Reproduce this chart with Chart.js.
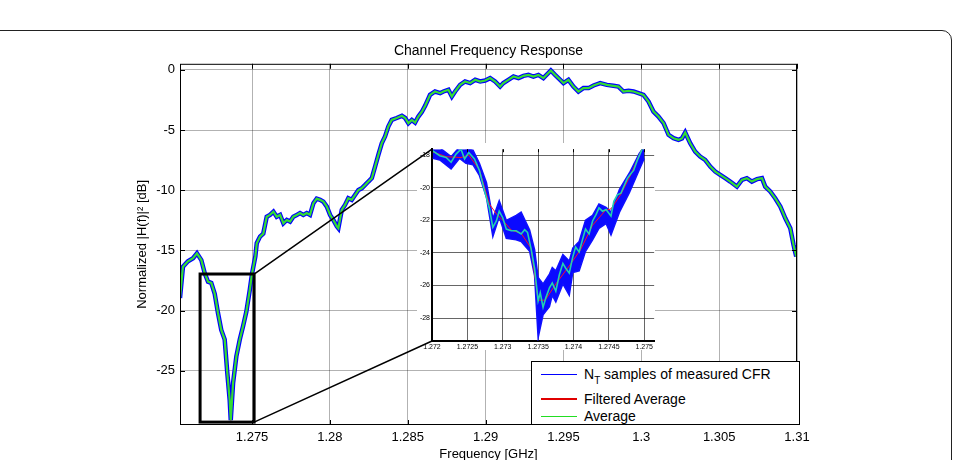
<!DOCTYPE html>
<html>
<head>
<meta charset="utf-8">
<script src="https://cdn.jsdelivr.net/npm/chart.js@4.4.1/dist/chart.umd.min.js"></script>
<style>
  body { margin: 0; background: #fff; overflow: hidden; }
  #wrap { position: relative; width: 954px; height: 460px; overflow: hidden; }
  #frame { position: absolute; left: -10px; top: 30px; width: 962px; height: 480px; box-sizing: border-box;
           border: 1.5px solid #222; border-radius: 10px; }
  canvas { position: absolute; }
  #main { left: 0; top: 0; }
  #inset { left: 417px; top: 143px; }
  #overlay { left: 0; top: 0; pointer-events: none; }
  #legend { position: absolute; left: 531px; top: 361px; width: 269px; height: 64px; box-sizing: border-box;
            border: 1px solid #000; background: #fff; font: 14px "Liberation Sans", Arial, sans-serif; color: #000; }
  #legend .row { position: absolute; left: 0; height: 16px; line-height: 16px; white-space: nowrap; }
  #legend .ln { position: absolute; left: 9px; width: 36px; top: 8px; }
  #legend .tx { position: absolute; left: 52px; top: 0; }
  #legend sub { font-size: 10px; vertical-align: -5px; line-height: 0; }
</style>
</head>
<body>
<div id="wrap">
  <div id="frame"></div>
  <canvas id="main" width="954" height="460"></canvas>
  <canvas id="inset" width="238" height="207"></canvas>
  <canvas id="overlay" width="954" height="460"></canvas>
  <div id="legend">
    <div class="row" style="top:4px"><span class="ln" style="height:1px;background:#0000ff"></span><span class="tx">N<sub>T</sub> samples of measured CFR</span></div>
    <div class="row" style="top:29px"><span class="ln" style="height:2px;top:7px;background:#e00000"></span><span class="tx">Filtered Average</span></div>
    <div class="row" style="top:46px"><span class="ln" style="height:1px;background:#22dd22"></span><span class="tx">Average</span></div>
  </div>
</div>
<script>
// ---- main plot data (frequency in GHz, normalized |H(f)|^2 in dB) ----
var mainFreq = [1.27037,1.27056,1.27088,1.27121,1.27146,1.27174,1.27196,1.27217,1.27238,1.27260,
  1.27281,1.27302,1.27324,1.27341,1.27356,1.27363,1.27378,1.27399,1.27421,1.27442,
  1.27463,1.27485,1.27500,1.27521,1.27530,1.27551,1.27572,1.27594,1.27615,1.27637,
  1.27658,1.27680,1.27701,1.27723,1.27744,1.27765,1.27787,1.27808,1.27829,1.27851,
  1.27872,1.27894,1.27915,1.27937,1.27958,1.27980,1.28001,1.28022,1.28044,1.28054,
  1.28076,1.28097,1.28118,1.28140,1.28161,1.28183,1.28204,1.28226,1.28247,1.28269,
  1.28290,1.28311,1.28333,1.28354,1.28375,1.28397,1.28429,1.28462,1.28483,1.28504,
  1.28526,1.28547,1.28568,1.28590,1.28611,1.28632,1.28643,1.28675,1.28708,1.28729,
  1.28761,1.28783,1.28804,1.28836,1.28868,1.28901,1.28933,1.28965,1.28997,1.29029,
  1.29061,1.29093,1.29114,1.29146,1.29179,1.29211,1.29243,1.29275,1.29307,1.29339,
  1.29371,1.29419,1.29446,1.29479,1.29500,1.29532,1.29564,1.29596,1.29628,1.29661,
  1.29693,1.29736,1.29779,1.29821,1.29853,1.29885,1.29918,1.29950,1.29982,1.30014,
  1.30046,1.30078,1.30110,1.30143,1.30175,1.30207,1.30239,1.30261,1.30282,1.30314,
  1.30346,1.30378,1.30410,1.30443,1.30475,1.30507,1.30539,1.30571,1.30614,1.30646,
  1.30678,1.30710,1.30743,1.30775,1.30796,1.30828,1.30860,1.30893,1.30925,1.30957,
  1.30978,1.30995];
var mainAvg = [-18.95,-16.35,-15.9,-15.65,-15.24,-15.8,-16.9,-17.6,-17.7,-18.6,
  -20.2,-21.6,-22.4,-25.2,-27.4,-29.1,-26.0,-23.8,-22.4,-21.3,
  -20.1,-18.3,-16.9,-15.5,-14.4,-13.85,-13.6,-12.2,-12.05,-11.78,
  -12.2,-12.05,-12.74,-12.47,-12.6,-12.2,-12.05,-11.9,-12.05,-11.9,
  -12.05,-11.08,-10.7,-10.8,-10.95,-11.36,-12.05,-12.47,-13.0,-13.16,
  -11.64,-11.22,-10.67,-10.8,-10.4,-9.98,-9.84,-9.56,-9.28,-9.0,
  -8.04,-7.07,-6.1,-5.54,-4.71,-4.16,-4.0,-3.82,-4.0,-4.43,
  -4.16,-4.38,-3.88,-3.5,-3.0,-2.4,-2.08,-1.8,-1.94,-1.8,
  -1.66,-2.22,-1.8,-1.25,-0.97,-1.1,-0.83,-0.97,-0.89,-0.69,
  -0.97,-1.39,-1.1,-0.83,-0.56,-0.69,-0.5,-0.42,-0.56,-0.42,
  -0.69,-0.06,-0.42,-0.83,-1.1,-0.83,-1.39,-1.8,-1.52,-1.52,
  -1.3,-1.1,-1.25,-1.33,-1.39,-1.8,-1.75,-1.8,-1.94,-2.08,
  -2.63,-3.47,-3.88,-4.43,-5.4,-5.68,-5.82,-5.7,-5.21,-6.1,
  -6.79,-7.2,-7.48,-8.04,-8.45,-8.73,-9.0,-9.28,-9.7,-9.14,
  -9.0,-9.28,-9.08,-9.0,-9.7,-10.1,-10.67,-11.36,-12.33,-13.16,
  -14.55,-15.5];
var mainXTicks = [1.275, 1.28, 1.285, 1.29, 1.295, 1.3, 1.305, 1.31];
var mainYTicks = [-25, -20, -15, -10, -5, 0];

// ---- zoomed inset data ----
var insetFreq = [1.27201,1.27211,1.27220,1.27227,1.27234,1.27241,1.27246,1.27252,1.27260,1.27267,
  1.27274,1.27281,1.27286,1.27291,1.27295,1.27300,1.27305,1.27312,1.27319,1.27326,
  1.27331,1.27335,1.27340,1.27345,1.27348,1.27350,1.27353,1.27357,1.27361,1.27366,
  1.27370,1.27375,1.27380,1.27385,1.27389,1.27394,1.27399,1.27403,1.27408,1.27413,
  1.27417,1.27422,1.27427,1.27432,1.27436,1.27441,1.27446,1.27453,1.27457,1.27462,
  1.27467,1.27471,1.27476,1.27481,1.27485,1.27490,1.27495,1.27498];
var insetAvg = [-17.74,-18.04,-18.14,-18.44,-17.94,-17.64,-18.24,-17.84,-18.24,-18.94,
  -20.14,-21.24,-22.44,-22.04,-21.44,-21.84,-22.54,-22.64,-22.64,-22.84,
  -22.58,-22.74,-23.74,-24.94,-26.14,-26.94,-26.44,-27.34,-26.74,-26.14,
  -25.84,-26.34,-25.34,-24.64,-24.94,-25.24,-24.24,-23.64,-23.94,-23.14,
  -22.54,-22.84,-22.04,-21.64,-21.24,-21.44,-21.34,-21.74,-20.84,-20.44,
  -20.34,-19.94,-19.44,-19.14,-18.94,-18.34,-17.84,-17.54];
var filtFreq = [1.27201,1.27220,1.27241,1.27252,1.27267,1.27281,1.27291,1.27300,1.27312,1.27326,
  1.27340,1.27350,1.27360,1.27375,1.27394,1.27410,1.27427,1.27445,1.27453,1.27467,1.27481,1.27497];
var filtered = [-17.8,-18.1,-18.15,-18.0,-18.9,-21.0,-21.6,-22.0,-22.6,-22.8,
  -23.7,-26.9,-26.9,-25.9,-24.8,-23.8,-22.3,-21.4,-21.3,-20.4,-19.2,-17.6];
// spread of the N_T measured samples (upper / lower envelope)
var bandFreq = [1.27201,1.27211,1.27227,1.27239,1.27248,1.27258,1.27267,1.27277,1.27286,1.27295,
  1.27305,1.27319,1.27326,1.27338,1.27345,1.27350,1.27357,1.27366,1.27370,1.27375,
  1.27385,1.27394,1.27399,1.27408,1.27417,1.27427,1.27436,1.27446,1.27453,1.27465,
  1.27479,1.27493,1.27500];
var bandUpper = [-17.6,-17.55,-18.1,-17.5,-17.6,-17.7,-18.5,-19.7,-21.9,-20.8,
  -22.0,-21.7,-21.5,-22.6,-23.8,-25.5,-25.9,-25.3,-24.9,-25.1,
  -24.1,-24.5,-23.7,-23.3,-22.0,-21.7,-21.0,-21.2,-21.5,-20.1,
  -19.1,-17.9,-17.5];
var bandLower = [-18.2,-18.3,-18.85,-18.2,-18.5,-18.6,-19.25,-20.6,-23.0,-21.8,
  -23.1,-23.2,-23.3,-23.9,-25.4,-29.2,-27.8,-27.3,-26.6,-27.0,
  -25.9,-26.6,-25.2,-25.1,-23.9,-23.2,-22.5,-22.2,-22.9,-21.5,
  -20.3,-18.9,-18.2];
var insetXTicks = [1.272, 1.2725, 1.273, 1.2735, 1.274, 1.2745, 1.275];
var insetYTicks = [-28, -26, -24, -22, -20, -18];
// region of the main plot that the inset magnifies
var zoomBox = [1.27166, 1.27513, -29.26, -16.96];

function pts(xs, ys) {
  return xs.map(function (x, i) { return {x: x, y: ys[i]}; });
}
function fmt(v) { return String(Number(v.toFixed(5))); }

Chart.defaults.font.family = "'Liberation Sans', Arial, sans-serif";
Chart.defaults.color = '#000';

var line = {pointRadius: 0, tension: 0, fill: false};

// MATLAB style box with inward ticks
var boxPlugin = {
  id: 'box',
  afterDraw: function (chart) {
    var c = chart.ctx, a = chart.chartArea, xs = chart.scales.x, ys = chart.scales.y;
    c.save();
    c.strokeStyle = '#000';
    c.lineWidth = 1;
    c.strokeRect(a.left + 0.5, a.top + 0.5, a.right - a.left - 1, a.bottom - a.top - 1);
    c.beginPath();
    mainXTicks.forEach(function (t) {
      var x = Math.round(xs.getPixelForValue(t)) + 0.5;
      c.moveTo(x, a.top); c.lineTo(x, a.top + 5);
      c.moveTo(x, a.bottom); c.lineTo(x, a.bottom - 5);
    });
    mainYTicks.forEach(function (t) {
      var y = Math.round(ys.getPixelForValue(t)) + 0.5;
      c.moveTo(a.left, y); c.lineTo(a.left + 5, y);
      c.moveTo(a.right, y); c.lineTo(a.right - 5, y);
    });
    c.stroke();
    c.restore();
  }
};

// datasets are listed top-most first (Chart.js paints index 0 last)
var mainChart = new Chart(document.getElementById('main'), {
  type: 'line',
  data: {
    datasets: [
      Object.assign({label: 'average', data: pts(mainFreq, mainAvg), borderColor: '#33dd33', borderWidth: 2.2}, line),
      // filtered average coincides with the average at this scale
      Object.assign({label: 'filtered', data: pts(mainFreq, mainAvg), borderColor: '#ff0000', borderWidth: 1}, line),
      Object.assign({label: 'samples', data: pts(mainFreq, mainAvg), borderColor: '#0000ff', borderWidth: 4.5}, line)
    ]
  },
  options: {
    responsive: false,
    animation: false,
    layout: {padding: {left: 0, right: 157, top: 0, bottom: 0}},
    plugins: {
      legend: {display: false},
      tooltip: {enabled: false},
      title: {display: true, text: 'Channel Frequency Response', fullSize: false,
              font: {size: 14, weight: 'normal'}, padding: {top: 43, bottom: 4}}
    },
    scales: {
      x: {
        type: 'linear', min: 1.27037, max: 1.31,
        afterBuildTicks: function (s) { s.ticks = mainXTicks.map(function (v) { return {value: v}; }); },
        afterFit: function (s) { s.height = 35; },
        ticks: {font: {size: 13}, padding: 5, maxRotation: 0, callback: fmt},
        grid: {color: 'rgba(0,0,0,0.3)', drawTicks: false},
        border: {display: false},
        title: {display: true, text: 'Frequency [GHz]', font: {size: 13}, padding: {top: 0, bottom: -2}}
      },
      y: {
        min: -29.5, max: 0.5,
        afterBuildTicks: function (s) { s.ticks = mainYTicks.map(function (v) { return {value: v}; }); },
        afterFit: function (s) { s.width = 180; },
        ticks: {font: {size: 13}, padding: 5},
        grid: {color: 'rgba(0,0,0,0.3)', drawTicks: false},
        border: {display: false},
        title: {display: true, text: 'Normalized |H(f)|² [dB]', font: {size: 13}, padding: {top: 135, bottom: 0}}
      }
    }
  },
  plugins: [boxPlugin]
});

var insetPlugin = {
  id: 'insetBg',
  beforeDraw: function (chart) {
    var c = chart.ctx;
    c.save(); c.fillStyle = '#fff'; c.fillRect(0, 0, chart.width, chart.height); c.restore();
  },
  afterDraw: function (chart) {
    var c = chart.ctx, a = chart.chartArea, xs = chart.scales.x;
    c.save();
    c.strokeStyle = '#000'; c.lineWidth = 1;
    c.beginPath();
    insetXTicks.forEach(function (t) {
      var x = Math.round(xs.getPixelForValue(t)) + 0.5;
      c.moveTo(x, a.top); c.lineTo(x, a.top + 3);
    });
    c.stroke();
    c.restore();
  }
};

var insetChart = new Chart(document.getElementById('inset'), {
  type: 'line',
  data: {
    datasets: [
      Object.assign({label: 'average', data: pts(insetFreq, insetAvg), borderColor: '#22d2b0', borderWidth: 1.6}, line),
      Object.assign({label: 'filtered', data: pts(filtFreq, filtered), borderColor: '#ff1020', borderWidth: 1}, line),
      Object.assign({label: 'upper', data: pts(bandFreq, bandUpper), borderColor: '#1010ff', borderWidth: 1.5}, line),
      Object.assign({label: 'lower', data: pts(bandFreq, bandLower), borderColor: '#1010ff', borderWidth: 1.5}, line, {fill: '-1', backgroundColor: '#0a0aff'})
    ]
  },
  options: {
    responsive: false,
    animation: false,
    layout: {padding: {left: 0, right: 0, top: 2, bottom: 0}},
    plugins: {legend: {display: false}, tooltip: {enabled: false}, title: {display: false}},
    scales: {
      x: {
        type: 'linear', min: 1.272, max: 1.27514,
        afterBuildTicks: function (s) { s.ticks = insetXTicks.map(function (v) { return {value: v}; }); },
        afterFit: function (s) { s.height = 9; },
        ticks: {font: {size: 7}, padding: 2, maxRotation: 0, callback: fmt},
        grid: {color: 'rgba(0,0,0,0.6)', drawTicks: false},
        border: {display: true, color: '#000', width: 2}
      },
      y: {
        min: -29.4, max: -17.64,
        afterBuildTicks: function (s) { s.ticks = insetYTicks.map(function (v) { return {value: v}; }); },
        afterFit: function (s) { s.width = 15; },
        ticks: {font: {size: 7}, padding: 2},
        grid: {color: 'rgba(0,0,0,0.6)', drawTicks: false},
        border: {display: true, color: '#000', width: 2}
      }
    }
  },
  plugins: [insetPlugin]
});

// zoom rectangle and connector lines
(function () {
  var c = document.getElementById('overlay').getContext('2d');
  var xs = mainChart.scales.x, ys = mainChart.scales.y;
  var x0 = xs.getPixelForValue(zoomBox[0]), x1 = xs.getPixelForValue(zoomBox[1]);
  var y0 = ys.getPixelForValue(zoomBox[2]), y1 = ys.getPixelForValue(zoomBox[3]);
  var ia = insetChart.chartArea, ox = 417, oy = 143;
  c.strokeStyle = '#000';
  c.lineWidth = 3;
  c.strokeRect(x0, y1, x1 - x0, y0 - y1);
  c.lineWidth = 1.5;
  c.beginPath();
  c.moveTo(x1, y1); c.lineTo(ox + ia.left, oy + ia.top);
  c.moveTo(x1, y0); c.lineTo(ox + ia.left, oy + ia.bottom);
  c.stroke();
})();
</script>
</body>
</html>
